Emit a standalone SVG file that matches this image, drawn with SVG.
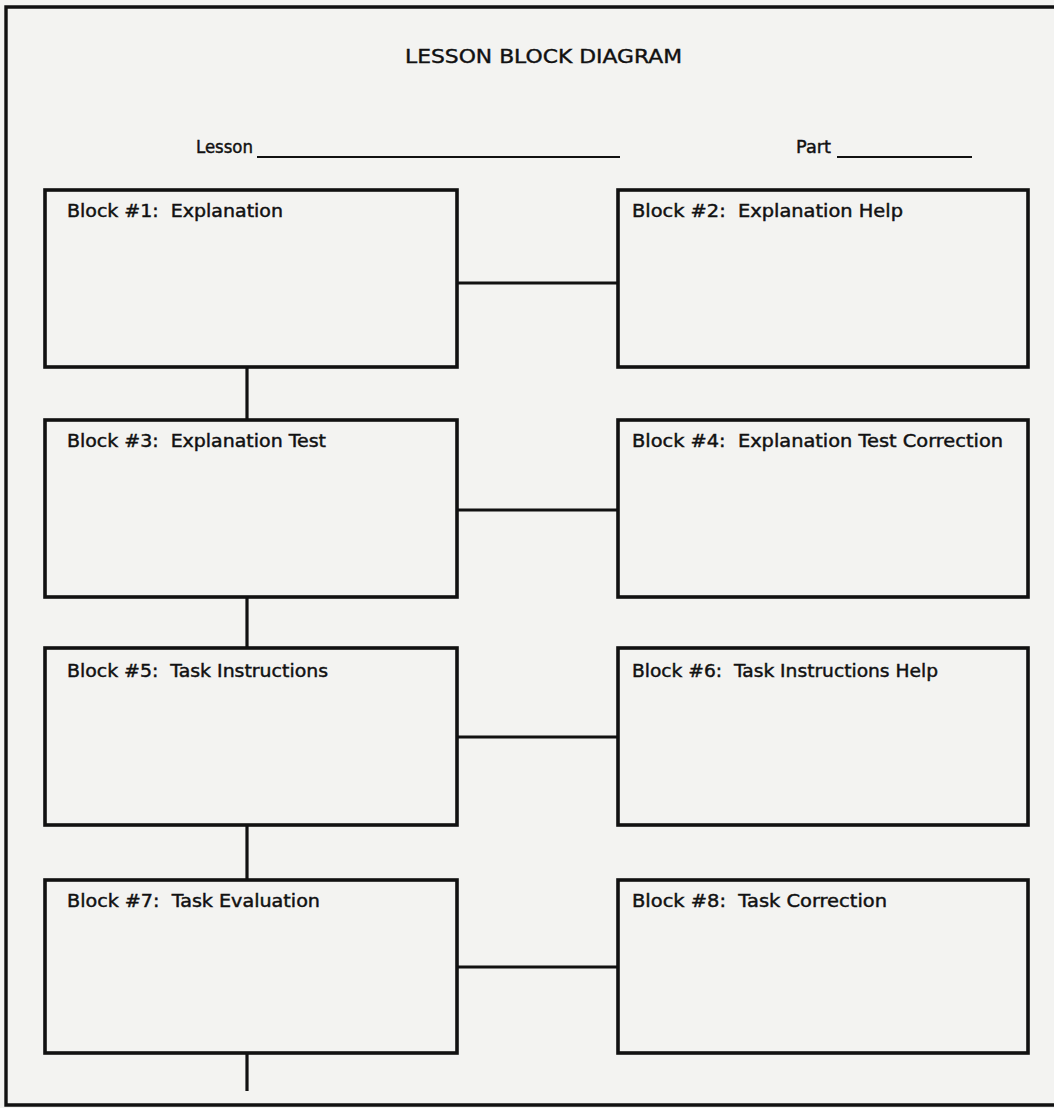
<svg xmlns="http://www.w3.org/2000/svg" width="1054" height="1108" viewBox="0 0 1054 1108">
<style>
  .bg { fill: #f3f3f1; }
  .box { fill: none; stroke: #111; stroke-width: 3.6; }
  .conn { fill: none; stroke: #111; stroke-width: 3.2; }
  .frame { fill: none; stroke: #111; stroke-width: 3.4; }
  .lbl { font-family: "DejaVu Sans", "Liberation Sans", sans-serif; font-size: 17.5px; fill: #111; stroke: #111; stroke-width: 0.45; white-space: pre; }
  .title { font-family: "DejaVu Sans", "Liberation Sans", sans-serif; font-size: 19px; fill: #111; stroke: #111; stroke-width: 0.4; }
  .blank { fill: none; stroke: #111; stroke-width: 2.2; }
</style>
<rect class="bg" x="0" y="0" width="1054" height="1108"/>
<path class="frame" d="M1054,7 L6,7 L6,1105 L1054,1105"/>
<g id="header">
  <text class="title" x="405" y="63" textLength="277" lengthAdjust="spacingAndGlyphs">LESSON BLOCK DIAGRAM</text>
  <text class="lbl" x="196" y="153" textLength="57" lengthAdjust="spacingAndGlyphs">Lesson</text>
  <line class="blank" x1="257" y1="157" x2="620" y2="157"/>
  <text class="lbl" x="796" y="153" textLength="35" lengthAdjust="spacingAndGlyphs">Part</text>
  <line class="blank" x1="837" y1="157" x2="972" y2="157"/>
</g>
<g id="connectors">
  <line class="conn" x1="457" y1="283" x2="618" y2="283"/>
  <line class="conn" x1="457" y1="510" x2="618" y2="510"/>
  <line class="conn" x1="457" y1="737" x2="618" y2="737"/>
  <line class="conn" x1="457" y1="967" x2="618" y2="967"/>
  <line class="conn" x1="247" y1="367" x2="247" y2="420"/>
  <line class="conn" x1="247" y1="597" x2="247" y2="648"/>
  <line class="conn" x1="247" y1="825" x2="247" y2="880"/>
  <line class="conn" x1="247" y1="1053" x2="247" y2="1091"/>
</g>
<g id="block1">
  <rect class="box" x="45" y="190" width="412" height="177"/>
  <text class="lbl" x="67" y="217" textLength="216" lengthAdjust="spacingAndGlyphs" xml:space="preserve">Block #1:  Explanation</text>
</g>
<g id="block2">
  <rect class="box" x="618" y="190" width="410" height="177"/>
  <text class="lbl" x="632" y="217" textLength="271" lengthAdjust="spacingAndGlyphs" xml:space="preserve">Block #2:  Explanation Help</text>
</g>
<g id="block3">
  <rect class="box" x="45" y="420" width="412" height="177"/>
  <text class="lbl" x="67" y="447" textLength="259" lengthAdjust="spacingAndGlyphs" xml:space="preserve">Block #3:  Explanation Test</text>
</g>
<g id="block4">
  <rect class="box" x="618" y="420" width="410" height="177"/>
  <text class="lbl" x="632" y="447" textLength="371" lengthAdjust="spacingAndGlyphs" xml:space="preserve">Block #4:  Explanation Test Correction</text>
</g>
<g id="block5">
  <rect class="box" x="45" y="648" width="412" height="177"/>
  <text class="lbl" x="67" y="677" textLength="261" lengthAdjust="spacingAndGlyphs" xml:space="preserve">Block #5:  Task Instructions</text>
</g>
<g id="block6">
  <rect class="box" x="618" y="648" width="410" height="177"/>
  <text class="lbl" x="632" y="677" textLength="306" lengthAdjust="spacingAndGlyphs" xml:space="preserve">Block #6:  Task Instructions Help</text>
</g>
<g id="block7">
  <rect class="box" x="45" y="880" width="412" height="173"/>
  <text class="lbl" x="67" y="907" textLength="253" lengthAdjust="spacingAndGlyphs" xml:space="preserve">Block #7:  Task Evaluation</text>
</g>
<g id="block8">
  <rect class="box" x="618" y="880" width="410" height="173"/>
  <text class="lbl" x="632" y="907" textLength="255" lengthAdjust="spacingAndGlyphs" xml:space="preserve">Block #8:  Task Correction</text>
</g>
</svg>
